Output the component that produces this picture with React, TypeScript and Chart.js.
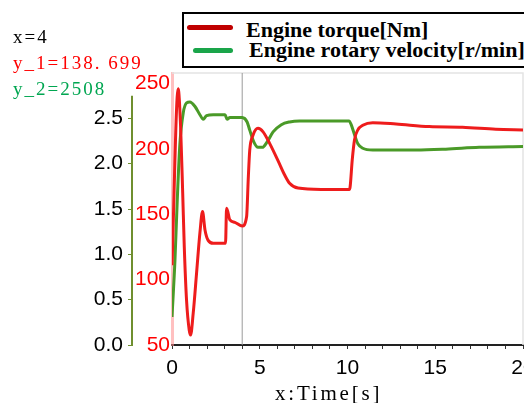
import React, { useEffect, useRef } from "react";
import { Chart, registerables } from "chart.js";

Chart.register(...registerables);

// ---- data ----
const xTickLabels = [0, 5, 10, 15, 20];
const torqueTicks = [50, 100, 150, 200, 250];
const speedTicks = [0, 0.5, 1.0, 1.5, 2.0, 2.5];
const speedAxisTop = 2.75;

const torqueTime = [0, 0.35, 0.49, 0.61, 0.7, 0.83, 0.98, 1.06, 1.21, 1.4, 1.59, 1.74, 1.88, 2.06, 2.35, 3.05, 3.11, 3.3, 3.58, 4.0, 4.25, 4.35, 4.43, 4.62, 4.9, 5.19, 5.57, 6.04, 6.42, 6.7, 7.18, 8.5, 10.1, 10.15, 10.27, 10.4, 10.59, 10.87, 11.44, 12.77, 14.66, 16.55, 18.45, 20];
const torqueValues = [111, 246, 217, 166, 125, 84, 61.5, 57.6, 74.5, 105, 135.7, 152, 138, 130, 127.8, 127.8, 154.5, 145.6, 143.8, 141, 148, 178.7, 199, 210.6, 215.7, 213, 204, 191, 180, 173.7, 170, 169, 169, 171, 191.5, 207, 214.5, 218, 220, 219, 217, 216.5, 215, 214.5];

const speedTime = [0, 0.17, 0.3, 0.45, 0.64, 0.83, 1.02, 1.31, 1.59, 1.78, 1.97, 2.35, 3.02, 3.14, 3.3, 4.0, 4.28, 4.43, 4.66, 4.9, 5.15, 5.42, 5.76, 6.23, 6.7, 7.27, 8.5, 10.1, 10.21, 10.4, 10.59, 10.87, 11.44, 13.9, 15.6, 17.5, 20];
const speedValues = [0.31, 0.94, 1.6, 2.22, 2.56, 2.67, 2.68, 2.63, 2.54, 2.49, 2.53, 2.54, 2.54, 2.49, 2.51, 2.508, 2.46, 2.37, 2.24, 2.18, 2.18, 2.24, 2.35, 2.43, 2.46, 2.47, 2.47, 2.47, 2.43, 2.32, 2.22, 2.17, 2.15, 2.15, 2.16, 2.18, 2.19];

const cursorX = 4;
const readoutLines = ["x=4", "y_1=138. 699", "y_2=2508"];
const legendLabels = ["Engine torque[Nm]", "Engine rotary velocity[r/min]"];
const xAxisTitle = "x:Time[s]";

const RED = "#ee1c1c";
const GREEN = "#4a9a28";
const OLIVE = "#6f8f2f";

const overlayPlugin = {
  id: "overlay",
  beforeDatasetsDraw(chart: any) {
    const { ctx, chartArea, scales } = chart;
    const { left, top, right, bottom } = chartArea;
    ctx.save();
    ctx.strokeStyle = "#e4e4e4";
    ctx.lineWidth = 1.5;
    ctx.beginPath();
    ctx.moveTo(left, top);
    ctx.lineTo(right, top);
    ctx.lineTo(right, bottom);
    ctx.stroke();
    const px = scales.x.getPixelForValue(cursorX);
    ctx.strokeStyle = "#9a9a9a";
    ctx.lineWidth = 1;
    ctx.beginPath();
    ctx.moveTo(px, top);
    ctx.lineTo(px, bottom);
    ctx.stroke();
    // speed axis line (shorter than the full plot height)
    const ys = scales.yS;
    ctx.strokeStyle = OLIVE;
    ctx.lineWidth = 2;
    ctx.beginPath();
    ctx.moveTo(ys.right - 1, ys.getPixelForValue(0) + 1);
    ctx.lineTo(ys.right - 1, ys.getPixelForValue(speedAxisTop));
    ctx.stroke();
    ctx.restore();
  },
};

export default function App() {
  const canvasRef = useRef<HTMLCanvasElement | null>(null);

  useEffect(() => {
    const canvas = canvasRef.current;
    if (!canvas) return;
    const chart = new Chart(canvas, {
      type: "line",
      data: {
        datasets: [
          {
            label: legendLabels[0],
            data: torqueTime.map((t, i) => ({ x: t, y: torqueValues[i] })),
            yAxisID: "yT",
            borderColor: RED,
            borderWidth: 3,
            pointRadius: 0,
            cubicInterpolationMode: "monotone",
            fill: false,
          },
          {
            label: legendLabels[1],
            data: speedTime.map((t, i) => ({ x: t, y: speedValues[i] })),
            yAxisID: "yS",
            borderColor: GREEN,
            borderWidth: 3,
            pointRadius: 0,
            cubicInterpolationMode: "monotone",
            fill: false,
          },
        ],
      },
      options: {
        animation: false,
        responsive: false,
        maintainAspectRatio: false,
        devicePixelRatio: 1,
        layout: { padding: { top: 73, right: 37, left: 0, bottom: 0 } },
        plugins: { legend: { display: false }, tooltip: { enabled: false } },
        scales: {
          x: {
            type: "linear",
            position: "bottom",
            min: 0,
            max: 20,
            afterFit: (s: any) => {
              s.height = 58;
            },
            ticks: {
              stepSize: 1,
              autoSkip: false,
              maxRotation: 0,
              color: "#000",
              padding: 7,
              font: { family: "Liberation Sans", size: 21 },
              callback: (v: any) => (xTickLabels.includes(Number(v)) ? String(v) : ""),
            },
            grid: { drawOnChartArea: false, drawTicks: true, tickLength: 4, color: "#333" },
            border: { color: "#222", width: 2 },
          },
          yT: {
            type: "linear",
            position: "left",
            min: 50,
            max: 258,
            weight: 0,
            afterFit: (s: any) => {
              s.width = 39;
            },
            afterBuildTicks: (s: any) => {
              s.ticks = torqueTicks.map((v) => ({ value: v }));
            },
            ticks: {
              color: "#ff0000",
              padding: 2,
              font: { family: "Liberation Sans", size: 21 },
            },
            grid: { drawOnChartArea: false, drawTicks: false },
            border: { color: "rgba(255,140,140,0.55)", width: 3 },
          },
          yS: {
            type: "linear",
            position: "left",
            min: 0,
            max: 3,
            weight: 1,
            afterFit: (s: any) => {
              s.width = 133;
            },
            afterBuildTicks: (s: any) => {
              s.ticks = speedTicks.map((v) => ({ value: v }));
            },
            ticks: {
              color: "#000",
              padding: 5,
              font: { family: "Liberation Sans", size: 21 },
              callback: (v: any) => Number(v).toFixed(1),
            },
            grid: { drawOnChartArea: false, drawTicks: true, tickLength: 5, color: OLIVE },
            border: { display: false },
          },
        },
      } as any,
      plugins: [overlayPlugin],
    });
    return () => chart.destroy();
  }, []);

  const serif = "'Liberation Serif', 'Times New Roman', serif";
  const readoutColors = ["#000", "#ff0000", "#00a651"];

  return (
    <div
      style={{
        position: "fixed",
        left: 0,
        top: 0,
        width: 524,
        height: 403,
        overflow: "hidden",
        background: "#fff",
      }}
    >
      <canvas ref={canvasRef} width={560} height={403} style={{ display: "block", width: 560, height: 403 }} />
      {readoutLines.map((t, i) => (
        <div
          key={t}
          style={{
            position: "absolute",
            left: 13,
            top: 24 + i * 26,
            fontFamily: serif,
            fontSize: 19,
            lineHeight: "26px",
            letterSpacing: 2,
            color: readoutColors[i],
            whiteSpace: "nowrap",
          }}
        >
          {t}
        </div>
      ))}
      <div
        style={{
          position: "absolute",
          left: 182,
          top: 12,
          width: 370,
          height: 52,
          border: "2px solid #000",
          background: "#fff",
        }}
      />
      <div style={{ position: "absolute", left: 187, top: 25, width: 46, height: 5, borderRadius: 3, background: "#c00000" }} />
      <div style={{ position: "absolute", left: 193, top: 48, width: 40, height: 5, borderRadius: 3, background: "#1aa54a" }} />
      {legendLabels.map((t, i) => (
        <div
          key={t}
          style={{
            position: "absolute",
            left: i === 0 ? 246 : 249,
            top: i === 0 ? 19 : 39,
            fontFamily: serif,
            fontWeight: "bold",
            fontSize: 22,
            lineHeight: "22px",
            color: "#000",
            whiteSpace: "nowrap",
          }}
        >
          {t}
        </div>
      ))}
      <div
        style={{
          position: "absolute",
          left: 275,
          top: 383,
          fontFamily: serif,
          fontSize: 21,
          lineHeight: "21px",
          letterSpacing: 2.8,
          color: "#000",
          whiteSpace: "nowrap",
        }}
      >
        {xAxisTitle}
      </div>
    </div>
  );
}
